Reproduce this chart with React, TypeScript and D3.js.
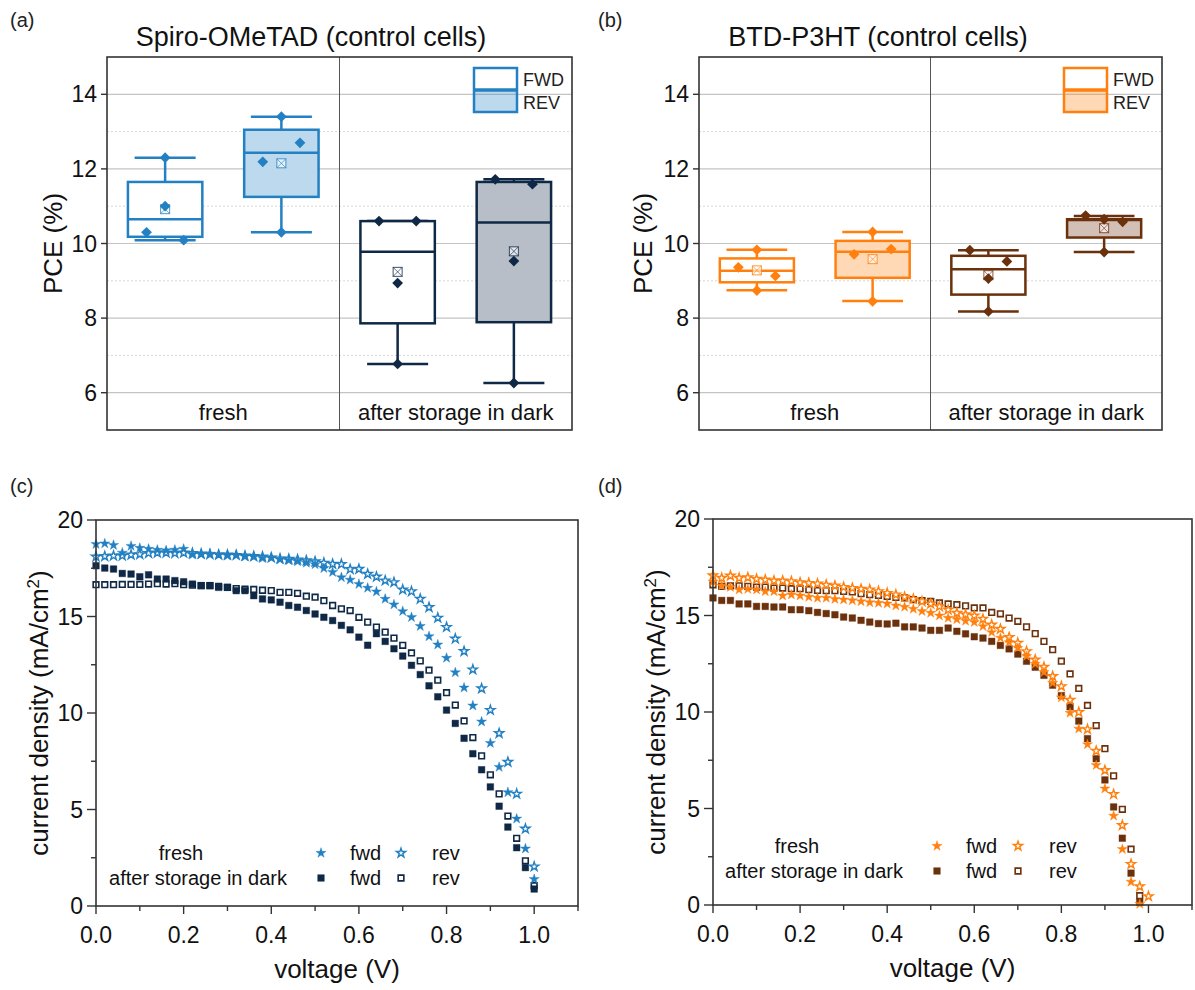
import React from 'react'
import * as d3 from 'd3'

const FONT = '"Liberation Sans", Arial, Helvetica, sans-serif'

const BLUE = '#2380c2'
const NAVY = '#0f2846'
const ORANGE = '#ff800e'
const BROWN = '#6b300c'

// ---------- box plot data (PCE, %) ----------
const boxKeys = ['fresh FWD', 'fresh REV', 'dark FWD', 'dark REV']

const spiroStats = [
  { lo: 10.09, q1: 10.18, med: 10.65, q3: 11.65, hi: 12.3, mean: 10.92 },
  { lo: 10.3, q1: 11.25, med: 12.43, q3: 13.05, hi: 13.4, mean: 12.15 },
  { lo: 6.77, q1: 7.86, med: 9.78, q3: 10.6, hi: 10.6, mean: 9.24 },
  { lo: 6.26, q1: 7.89, med: 10.56, q3: 11.65, hi: 11.72, mean: 9.79 },
]
const spiroPoints = [
  [12.3, 11.0, 10.3, 10.09],
  [13.4, 12.7, 12.19, 10.3],
  [10.6, 10.6, 8.94, 6.77],
  [11.72, 11.59, 9.53, 6.26],
]
const spiroJitter = [
  [0, 0, -1, 1],
  [0, 1, -1, 0],
  [-1, 1, 0, 0],
  [-1, 1, 0, 0],
]

const p3htStats = [
  { lo: 8.75, q1: 8.96, med: 9.27, q3: 9.6, hi: 9.83, mean: 9.28 },
  { lo: 8.46, q1: 9.08, med: 9.78, q3: 10.07, hi: 10.31, mean: 9.58 },
  { lo: 8.18, q1: 8.63, med: 9.31, q3: 9.67, hi: 9.82, mean: 9.15 },
  { lo: 9.77, q1: 10.16, med: 10.63, q3: 10.65, hi: 10.74, mean: 10.41 },
]
const p3htPoints = [
  [9.83, 9.36, 9.13, 8.74],
  [10.31, 9.71, 9.85, 8.45],
  [9.82, 9.52, 9.06, 8.18],
  [10.75, 10.58, 10.65, 9.77],
]
const p3htJitter = [
  [0, -1, 1, 0],
  [0, -1, 1, 0],
  [-1, 1, 0, 0],
  [-1, 1, 0, 0],
]

// ---------- J-V data ----------
const voltage = [
  0, 0.02, 0.04, 0.06, 0.08, 0.1, 0.12, 0.14, 0.16, 0.18, 0.2, 0.22, 0.24, 0.26, 0.28, 0.3, 0.32,
  0.34, 0.36, 0.38, 0.4, 0.42, 0.44, 0.46, 0.48, 0.5, 0.52, 0.54, 0.56, 0.58, 0.6, 0.62, 0.64, 0.66,
  0.68, 0.7, 0.72, 0.74, 0.76, 0.78, 0.8, 0.82, 0.84, 0.86, 0.88, 0.9, 0.92, 0.94, 0.96, 0.98, 1.0,
]

const spiroFreshFwd = [
  18.75, 18.78, 18.7, 18.3, 18.65, 18.55, 18.5, 18.45, 18.42, 18.45, 18.5, 18.2, 18.22, 18.25, 18.2,
  18.15, 18.18, 18.1, 18.1, 18.02, 18.05, 17.95, 17.9, 17.85, 17.78, 17.7, 17.5, 17.3, 17.03, 16.9,
  16.68, 16.48, 16.29, 15.91, 15.62, 15.27, 14.96, 14.5, 13.97, 13.54, 12.85, 12.1, 11.31, 10.38,
  9.55, 8.44, 7.2, 5.89, 4.52, 2.97, 1.39,
]
const spiroFreshRev = [
  18.1, 18.12, 18.15, 18.15, 18.2, 18.22, 18.28, 18.3, 18.3, 18.28, 18.3, 18.28, 18.25, 18.22, 18.2,
  18.2, 18.18, 18.15, 18.12, 18.1, 18.05, 18.0, 17.98, 17.95, 17.9, 17.85, 17.78, 17.72, 17.71, 17.45,
  17.46, 17.2, 17.06, 16.86, 16.77, 16.39, 16.3, 15.91, 15.48, 14.93, 14.45, 13.85, 13.2, 12.25,
  11.27, 10.15, 8.95, 7.46, 5.81, 4.0, 2.04,
]
const spiroDarkFwd = [
  17.63, 17.51, 17.46, 17.23, 17.2, 17.06, 17.16, 16.94, 16.94, 16.86, 16.8, 16.68, 16.6, 16.6, 16.51,
  16.51, 16.34, 16.34, 16.08, 15.91, 15.86, 15.74, 15.57, 15.48, 15.31, 15.13, 14.96, 14.79, 14.54,
  14.31, 13.93, 13.51, 14.11, 13.71, 13.33, 12.95, 12.47, 11.99, 11.41, 10.84, 10.15, 9.46, 8.69,
  7.89, 7.06, 6.17, 5.17, 4.09, 3.02, 1.99, 0.88,
]
const spiroDarkRev = [
  16.65, 16.65, 16.65, 16.66, 16.66, 16.66, 16.68, 16.7, 16.68, 16.7, 16.65, 16.62, 16.6, 16.6, 16.56,
  16.51, 16.45, 16.42, 16.4, 16.36, 16.34, 16.25, 16.25, 16.2, 16.05, 16.0, 15.82, 15.57, 15.4, 15.31,
  14.96, 14.71, 14.45, 14.19, 13.88, 13.51, 13.11, 12.7, 12.22, 11.7, 11.05, 10.41, 9.59, 8.73, 7.78,
  6.8, 5.81, 4.66, 3.51, 2.34, 1.05,
]

const p3htFreshFwd = [
  16.75, 16.54, 16.47, 16.34, 16.37, 16.34, 16.25, 16.25, 16.03, 16.08, 16.03, 15.96, 15.91, 15.91,
  15.85, 15.82, 15.78, 15.73, 15.68, 15.65, 15.61, 15.51, 15.44, 15.34, 15.22, 15.13, 14.99, 14.87,
  14.8, 14.72, 14.65, 14.44, 14.13, 13.84, 13.61, 13.32, 12.89, 12.49, 12.06, 11.5, 10.75, 9.95, 9.13,
  8.32, 7.24, 6.03, 4.62, 2.89, 1.2, 0.05,
]
const p3htFreshRev = [
  17.07, 16.94, 17.06, 16.94, 16.97, 16.89, 16.85, 16.8, 16.8, 16.77, 16.71, 16.68, 16.65, 16.59,
  16.54, 16.47, 16.42, 16.37, 16.34, 16.25, 16.16, 16.08, 15.96, 15.85, 15.73, 15.61, 15.47, 15.3,
  15.13, 15.05, 14.99, 14.82, 14.52, 14.3, 13.87, 13.58, 13.14, 12.71, 12.33, 11.85, 11.33, 10.62,
  9.99, 9.1, 7.98, 6.98, 5.74, 4.13, 2.12, 0.96, 0.45,
]
const p3htDarkFwd = [
  15.91, 15.78, 15.78, 15.6, 15.6, 15.47, 15.47, 15.44, 15.44, 15.3, 15.3, 15.25, 15.16, 15.1, 15.04,
  14.92, 14.87, 14.75, 14.66, 14.58, 14.56, 14.6, 14.41, 14.41, 14.35, 14.23, 14.23, 14.35, 14.18,
  14.05, 13.9, 13.83, 13.66, 13.45, 13.27, 13.0, 12.63, 12.32, 11.9, 11.39, 10.85, 10.27, 9.53, 8.62,
  7.58, 6.48, 5.08, 3.46, 1.65, 0.14,
]
const p3htDarkRev = [
  16.59, 16.51, 16.54, 16.54, 16.51, 16.47, 16.47, 16.42, 16.42, 16.39, 16.39, 16.34, 16.3, 16.29,
  16.29, 16.25, 16.22, 16.13, 16.08, 16.04, 15.99, 15.94, 15.91, 15.82, 15.77, 15.73, 15.65, 15.6,
  15.56, 15.5, 15.39, 15.39, 15.16, 15.09, 14.87, 14.7, 14.41, 14.06, 13.66, 13.23, 12.63, 11.97,
  11.22, 10.34, 9.3, 8.1, 6.69, 4.96, 2.89, 0.48,
]

const starPath = d3.symbol(d3.symbolStar, 32)() as string
const openStarPath = d3.symbol(d3.symbolStar, 26)() as string
const squarePath = d3.symbol(d3.symbolSquare, 44)() as string
const openSquarePath = d3.symbol(d3.symbolSquare, 32)() as string
const diamondPath = d3.symbol(d3.symbolSquare, 58)() as string

type Frame = { left: number; right: number; top: number; bottom: number }

function BoxPanel({ f, stats, points, jitter, light, dark, title, titleX, tag, tagX, legendX, labelX }: any) {
  const x = d3.scaleBand().domain(boxKeys).range([f.left, f.right]).paddingInner(0.36).paddingOuter(0.18)
  const y = d3.scaleLinear().domain([5, 15]).range([f.bottom, f.top])
  const bw = x.bandwidth()
  const cap = bw * 0.82
  const jit = bw * 0.25
  const mid = (f.left + f.right) / 2
  const majors = [6, 8, 10, 12, 14]
  const minors = [7, 9, 11, 13]

  return (
    <g fontFamily={FONT}>
      <text x={tagX} y={27} fontSize={20} fill="#222">{tag}</text>
      <text x={titleX} y={46} fontSize={27} textAnchor="middle" fill="#111">{title}</text>

      {minors.map((v) => (
        <line key={'mi' + v} x1={f.left} x2={f.right} y1={y(v)} y2={y(v)} stroke="#d8d8d8" strokeWidth={1} strokeDasharray="2,2" />
      ))}
      {majors.map((v) => (
        <line key={'ma' + v} x1={f.left} x2={f.right} y1={y(v)} y2={y(v)} stroke="#c4c4c4" strokeWidth={1.2} />
      ))}
      <line x1={mid} x2={mid} y1={f.top} y2={f.bottom} stroke="#555" strokeWidth={1} />

      {stats.map((s: any, i: number) => {
        const k = boxKeys[i]
        const cx = (x(k) as number) + bw / 2
        const col = i < 2 ? light : dark
        const filled = i % 2 === 1
        return (
          <g key={k}>
            <line x1={cx} x2={cx} y1={y(s.q3)} y2={y(s.hi)} stroke={col} strokeWidth={2.5} />
            <line x1={cx} x2={cx} y1={y(s.q1)} y2={y(s.lo)} stroke={col} strokeWidth={2.5} />
            <line x1={cx - cap / 2} x2={cx + cap / 2} y1={y(s.hi)} y2={y(s.hi)} stroke={col} strokeWidth={2.5} />
            <line x1={cx - cap / 2} x2={cx + cap / 2} y1={y(s.lo)} y2={y(s.lo)} stroke={col} strokeWidth={2.5} />
            <rect x={cx - bw / 2} y={y(s.q3)} width={bw} height={y(s.q1) - y(s.q3)} fill="#fff" />
            {filled && (
              <rect x={cx - bw / 2} y={y(s.q3)} width={bw} height={y(s.q1) - y(s.q3)} fill={col} fillOpacity={0.3} />
            )}
            <rect x={cx - bw / 2} y={y(s.q3)} width={bw} height={y(s.q1) - y(s.q3)} fill="none" stroke={col} strokeWidth={2.5} />
            <line x1={cx - bw / 2} x2={cx + bw / 2} y1={y(s.med)} y2={y(s.med)} stroke={col} strokeWidth={2.5} />
            <g transform={`translate(${cx},${y(s.mean)})`}>
              <rect x={-4.5} y={-4.5} width={9} height={9} fill="#fff" fillOpacity={0.6} stroke={col} strokeWidth={1} strokeOpacity={0.8} />
              <line x1={-4.5} y1={-4.5} x2={4.5} y2={4.5} stroke={col} strokeWidth={0.8} strokeOpacity={0.8} />
              <line x1={-4.5} y1={4.5} x2={4.5} y2={-4.5} stroke={col} strokeWidth={0.8} strokeOpacity={0.8} />
            </g>
            {points[i].map((v: number, j: number) => (
              <path key={j} d={diamondPath} transform={`translate(${cx + jitter[i][j] * jit},${y(v)}) rotate(45)`} fill={col} />
            ))}
          </g>
        )
      })}

      {/* legend */}
      <g>
        <rect x={legendX} y={68} width={43} height={22} fill="#fff" />
        <rect x={legendX} y={90} width={43} height={22} fill={light} fillOpacity={0.3} />
        <rect x={legendX} y={68} width={43} height={44} fill="none" stroke={light} strokeWidth={2.5} />
        <line x1={legendX} x2={legendX + 43} y1={90} y2={90} stroke={light} strokeWidth={3.5} />
        <text x={legendX + 49} y={86} fontSize={18} fill="#222">FWD</text>
        <text x={legendX + 49} y={109} fontSize={18} fill="#222">REV</text>
      </g>

      <text x={(f.left + mid) / 2} y={420} fontSize={22} textAnchor="middle" fill="#111">fresh</text>
      <text x={(mid + f.right) / 2} y={420} fontSize={22} textAnchor="middle" fill="#111">after storage in dark</text>

      <rect x={f.left} y={f.top} width={f.right - f.left} height={f.bottom - f.top} fill="none" stroke="#333" strokeWidth={1.6} />
      {majors.map((v) => (
        <g key={'t' + v}>
          <line x1={f.left - 6} x2={f.left} y1={y(v)} y2={y(v)} stroke="#333" strokeWidth={1.4} />
          <text x={f.left - 10} y={y(v) + 8} fontSize={23} textAnchor="end" fill="#111">{v}</text>
        </g>
      ))}
      <text transform={`translate(${labelX},${(f.top + f.bottom) / 2}) rotate(-90)`} fontSize={26} textAnchor="middle" fill="#111">PCE (%)</text>
    </g>
  )
}

function Marker({ shape, open, color, cx, cy }: any) {
  if (shape === 'star') {
    return (
      <path d={open ? openStarPath : starPath} transform={`translate(${cx},${cy})`} fill={open ? '#fff' : color} stroke={color} strokeWidth={open ? 1.4 : 0.4} />
    )
  }
  return (
    <path d={open ? openSquarePath : squarePath} transform={`translate(${cx},${cy})`} fill={open ? '#fff' : color} stroke={color} strokeWidth={open ? 1.6 : 0.4} />
  )
}

function JvPanel({ f, series, tag, tagX, labelX, legend }: any) {
  const x = d3.scaleLinear().domain([0, 1.1]).range([f.left, f.right])
  const y = d3.scaleLinear().domain([0, 20]).range([f.bottom, f.top])
  const xMajor = [0, 0.2, 0.4, 0.6, 0.8, 1.0]
  const xMinor = [0.1, 0.3, 0.5, 0.7, 0.9, 1.1]
  const yMajor = [0, 5, 10, 15, 20]
  const yMinor = [2.5, 7.5, 12.5, 17.5]
  const fmt = d3.format('.1f')
  const L = legend
  return (
    <g fontFamily={FONT}>
      <text x={tagX} y={493} fontSize={20} fill="#222">{tag}</text>

      {series.map((s: any, si: number) => (
        <g key={si}>
          {s.values.map((v: number, i: number) => (
            <Marker key={i} shape={s.shape} open={s.open} color={s.color} cx={x(voltage[i])} cy={y(v)} />
          ))}
        </g>
      ))}

      <rect x={f.left} y={f.top} width={f.right - f.left} height={f.bottom - f.top} fill="none" stroke="#333" strokeWidth={1.6} />
      {xMajor.map((v) => (
        <g key={'xm' + v}>
          <line x1={x(v)} x2={x(v)} y1={f.bottom} y2={f.bottom + 8} stroke="#333" strokeWidth={1.4} />
          <text x={x(v)} y={f.bottom + 37} fontSize={23} textAnchor="middle" fill="#111">{fmt(v)}</text>
        </g>
      ))}
      {xMinor.map((v) => (
        <line key={'xn' + v} x1={x(v)} x2={x(v)} y1={f.bottom} y2={f.bottom + 5} stroke="#333" strokeWidth={1.4} />
      ))}
      {yMajor.map((v) => (
        <g key={'ym' + v}>
          <line x1={f.left - 9} x2={f.left} y1={y(v)} y2={y(v)} stroke="#333" strokeWidth={1.4} />
          <text x={f.left - 13} y={y(v) + 8} fontSize={23} textAnchor="end" fill="#111">{v}</text>
        </g>
      ))}
      {yMinor.map((v) => (
        <line key={'yn' + v} x1={f.left - 5} x2={f.left} y1={y(v)} y2={y(v)} stroke="#333" strokeWidth={1.4} />
      ))}
      <text x={(f.left + f.right) / 2} y={f.bottom + 72} fontSize={26} textAnchor="middle" fill="#111">voltage (V)</text>
      <text transform={`translate(${labelX},${(f.top + f.bottom) / 2}) rotate(-90)`} fontSize={26} textAnchor="middle" fill="#111">
        current density (mA/cm<tspan dy={-9} fontSize={17}>2</tspan><tspan dy={9}>)</tspan>
      </text>

      {/* legend */}
      <text x={L.textX} y={L.y1 + 7} fontSize={20} textAnchor="middle" fill="#111">fresh</text>
      <text x={L.textX + 17} y={L.y2 + 7} fontSize={20} textAnchor="middle" fill="#111">after storage in dark</text>
      <Marker shape="star" open={false} color={L.fresh} cx={L.m1} cy={L.y1} />
      <Marker shape="star" open={true} color={L.fresh} cx={L.m2} cy={L.y1} />
      <Marker shape="square" open={false} color={L.dark} cx={L.m1} cy={L.y2} />
      <Marker shape="square" open={true} color={L.dark} cx={L.m2} cy={L.y2} />
      <text x={L.m1 + 29} y={L.y1 + 7} fontSize={20} fill="#111">fwd</text>
      <text x={L.m2 + 31} y={L.y1 + 7} fontSize={20} fill="#111">rev</text>
      <text x={L.m1 + 29} y={L.y2 + 7} fontSize={20} fill="#111">fwd</text>
      <text x={L.m2 + 31} y={L.y2 + 7} fontSize={20} fill="#111">rev</text>
    </g>
  )
}

export default function App() {
  const fa: Frame = { left: 107, right: 572, top: 57, bottom: 430 }
  const fb: Frame = { left: 699, right: 1162, top: 57, bottom: 430 }
  const fc: Frame = { left: 96, right: 578, top: 520, bottom: 906 }
  const fd: Frame = { left: 713, right: 1192, top: 519, bottom: 905 }

  const spiroSeries = [
    { values: spiroDarkRev, shape: 'square', open: true, color: NAVY },
    { values: spiroDarkFwd, shape: 'square', open: false, color: NAVY },
    { values: spiroFreshRev, shape: 'star', open: true, color: BLUE },
    { values: spiroFreshFwd, shape: 'star', open: false, color: BLUE },
  ]
  const p3htSeries = [
    { values: p3htDarkRev, shape: 'square', open: true, color: BROWN },
    { values: p3htDarkFwd, shape: 'square', open: false, color: BROWN },
    { values: p3htFreshRev, shape: 'star', open: true, color: ORANGE },
    { values: p3htFreshFwd, shape: 'star', open: false, color: ORANGE },
  ]

  return (
    <svg width={1195} height={990} style={{ position: 'absolute', left: 0, top: 0, background: '#fff' }}>
      <rect width={1195} height={990} fill="#fff" />
      <BoxPanel f={fa} stats={spiroStats} points={spiroPoints} jitter={spiroJitter} light={BLUE} dark={NAVY}
        title="Spiro-OMeTAD (control cells)" titleX={311} tag="(a)" tagX={10} legendX={474} labelX={62} />
      <BoxPanel f={fb} stats={p3htStats} points={p3htPoints} jitter={p3htJitter} light={ORANGE} dark={BROWN}
        title="BTD-P3HT (control cells)" titleX={878} tag="(b)" tagX={598} legendX={1064} labelX={652} />
      <JvPanel f={fc} series={spiroSeries} tag="(c)" tagX={10} labelX={48}
        legend={{ textX: 181, y1: 853, y2: 878, m1: 321, m2: 401, fresh: BLUE, dark: NAVY }} />
      <JvPanel f={fd} series={p3htSeries} tag="(d)" tagX={598} labelX={665}
        legend={{ textX: 797, y1: 846, y2: 871, m1: 937, m2: 1018, fresh: ORANGE, dark: BROWN }} />
    </svg>
  )
}
